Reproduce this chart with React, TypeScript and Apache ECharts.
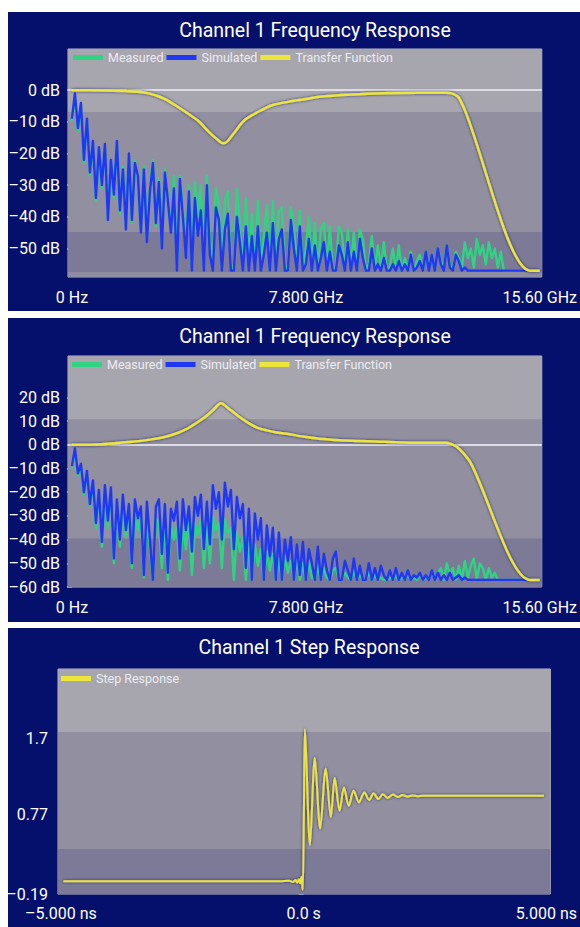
import { useEffect, useRef } from "react";
import * as echarts from "echarts";

// ---------- data ----------
// Spectra are sampled every 0.1 GHz starting at 0 GHz.
const FREQ_STEP_GHZ = 0.1;

// Channel 1, first equaliser setting (dB)
const measured1 = [
  -10, -2, -13, -5, -23, -10, -27, -17, -35, -19,
  -31, -18, -40, -23, -34, -17, -39, -24, -43, -21,
  -42, -22, -28, -44, -24, -47, -31, -22, -43, -28,
  -49, -25, -34, -44, -27, -55, -27, -38, -52, -30,
  -55, -29, -40, -30, -56, -27, -47, -55, -31, -36,
  -56, -35, -32, -55, -57, -31, -42, -56, -34, -54,
  -39, -56, -35, -55, -46, -36, -57, -35, -56, -38,
  -37, -55, -57, -37, -43, -56, -38, -57, -50, -40,
  -56, -42, -57, -44, -42, -56, -43, -57, -56, -43,
  -45, -57, -44, -56, -45, -57, -44, -47, -57, -55,
  -46, -57, -49, -56, -48, -57, -56, -50, -57, -49,
  -57, -53, -57, -51, -57, -54, -52, -57, -51, -56,
  -52, -57, -50, -54, -56, -49, -55, -57, -51, -53,
  -56, -48, -53, -50, -56, -47, -52, -49, -55, -48,
  -53, -50, -56, -51, -57, -57, -57, -57, -57, -57,
  -57, -57, -57, -57,
];
const simulated1 = [
  -9, -1, -12, -4, -22, -9, -26, -16, -34, -18,
  -30, -17, -41, -22, -33, -16, -38, -25, -44, -20,
  -41, -23, -27, -45, -25, -48, -32, -23, -42, -29,
  -50, -26, -35, -45, -31, -57, -28, -40, -53, -32,
  -57, -34, -46, -38, -57, -30, -52, -57, -37, -41,
  -57, -44, -39, -57, -57, -40, -48, -57, -43, -57,
  -46, -57, -43, -57, -52, -45, -57, -42, -57, -47,
  -44, -57, -57, -41, -50, -57, -43, -57, -55, -47,
  -57, -49, -57, -53, -48, -57, -51, -57, -57, -49,
  -52, -57, -48, -57, -51, -57, -47, -53, -57, -57,
  -50, -57, -55, -57, -53, -57, -57, -55, -57, -54,
  -57, -55, -57, -52, -57, -56, -54, -57, -51, -57,
  -52, -57, -50, -55, -57, -49, -56, -57, -52, -54,
  -57, -56, -57, -57, -57, -57, -57, -57, -57, -57,
  -57, -57, -57, -57, -57, -57, -57, -57, -57, -57,
  -57, -57, -57, -57,
];

// Channel 1, second equaliser setting (dB)
const measured2 = [
  -10, -3, -13, -9, -21, -12, -26, -17, -35, -21,
  -43, -19, -35, -20, -50, -25, -43, -24, -39, -28,
  -52, -27, -36, -30, -56, -29, -44, -57, -31, -33,
  -52, -34, -57, -33, -40, -35, -53, -34, -44, -31,
  -55, -33, -38, -32, -52, -34, -50, -30, -36, -33,
  -52, -31, -37, -35, -57, -37, -45, -39, -57, -41,
  -57, -42, -51, -44, -57, -45, -53, -46, -57, -48,
  -57, -47, -54, -49, -57, -48, -57, -50, -57, -49,
  -56, -57, -51, -57, -52, -56, -57, -53, -52, -57,
  -57, -54, -56, -57, -53, -57, -55, -57, -57, -54,
  -57, -55, -57, -56, -57, -57, -56, -57, -55, -57,
  -56, -57, -55, -57, -56, -57, -55, -57, -56, -57,
  -53, -57, -54, -52, -57, -50, -55, -52, -57, -51,
  -57, -49, -56, -51, -48, -57, -50, -52, -57, -52,
  -56, -54, -57, -57, -57, -57, -57, -57, -57, -57,
  -57, -57, -57, -57,
];
const simulated2 = [
  -9, -1.5, -12, -8, -20, -11, -25, -15, -33, -19,
  -41, -17, -32, -18, -48, -23, -40, -21, -36, -25,
  -50, -23, -31, -26, -55, -24, -40, -57, -26, -23,
  -46, -25, -54, -27, -32, -24, -48, -23, -36, -26,
  -45, -22, -30, -21, -44, -24, -42, -17, -27, -20,
  -40, -16, -26, -19, -44, -22, -31, -25, -52, -27,
  -57, -29, -40, -31, -57, -34, -47, -35, -57, -37,
  -57, -40, -49, -39, -57, -42, -55, -41, -57, -44,
  -50, -57, -43, -57, -46, -53, -57, -48, -45, -57,
  -57, -49, -53, -57, -48, -57, -51, -57, -57, -50,
  -57, -52, -57, -51, -55, -57, -53, -57, -52, -57,
  -54, -57, -53, -57, -55, -56, -54, -57, -55, -57,
  -53, -57, -54, -57, -55, -57, -54, -57, -56, -55,
  -57, -56, -57, -57, -57, -57, -57, -57, -57, -57,
  -57, -57, -57, -57, -57, -57, -57, -57, -57, -57,
  -57, -57, -57, -57,
];

// Transfer functions (GHz, dB)
const transfer1Ghz = [0, 1.0, 1.8, 2.2, 2.6, 2.9, 3.2, 3.5, 3.85, 4.2, 4.6, 4.85, 5.05, 5.2, 5.4, 5.75, 6.2, 6.7, 7.2, 7.8, 8.25, 9.35, 10.4, 11.5, 12.5, 12.75, 12.9, 13.1, 15.28, 15.6];
const transfer1Db = [0, -0.1, -0.3, -0.5, -1.1, -2.0, -3.3, -5.1, -7.3, -9.6, -13.5, -15.6, -16.8, -16.0, -13.6, -9.5, -6.9, -4.7, -3.7, -2.8, -2.1, -1.4, -1.0, -0.8, -0.8, -1.3, -2.4, -6.3, -57, -57];
const transfer2Ghz = [0, 1.0, 2.0, 2.6, 3.12, 3.5, 3.78, 4.1, 4.43, 4.7, 4.97, 5.2, 5.52, 5.85, 6.17, 6.5, 6.83, 7.16, 7.7, 8.24, 9.36, 10.44, 11.5, 12.5, 12.68, 12.84, 13.05, 13.3, 15.27, 15.6];
const transfer2Db = [0, 0.3, 1.3, 2.2, 3.4, 4.9, 6.4, 8.8, 11.6, 14.6, 17.6, 15.6, 12.4, 9.5, 7.3, 6.1, 5.2, 4.7, 3.5, 2.6, 1.7, 1.3, 0.9, 0.9, 0.2, -0.9, -3.5, -7.7, -57, -57];

// Step response (ns, normalised amplitude)
const stepTimeNs = [-4.95, -1.5, -0.5, -0.3, -0.22, -0.17, -0.13, -0.1, -0.07, -0.045, -0.02, 0.005, 0.027, 0.13, 0.23, 0.34, 0.455, 0.56, 0.64, 0.74, 0.83, 0.93, 1.03, 1.14, 1.25, 1.35, 1.44, 1.54, 1.63, 1.73, 1.84, 1.94, 2.04, 2.14, 2.24, 2.34, 2.45, 2.6, 3.5, 4.95];
const stepValue = [-0.035, -0.035, -0.035, -0.03, -0.045, -0.02, -0.055, -0.01, -0.06, 0.02, -0.14, 0.8, 1.81, 0.4, 1.46, 0.6, 1.33, 0.74, 1.22, 0.82, 1.1, 0.88, 1.06, 0.92, 1.04, 0.95, 1.03, 0.96, 1.02, 0.975, 1.015, 0.985, 1.01, 0.99, 1.005, 0.995, 1.0, 1.0, 1.0, 1.0];

// Axis ticks and labels
const freqTicksGhz = [0, 1.95, 3.9, 5.85, 7.8, 9.75, 11.7, 13.65, 15.6];
const freqLabelsGhz = [0, 7.8, 15.6];
const freqLabelText = ["0 Hz", "7.800 GHz", "15.60 GHz"];
const db1Ticks = [0, -10, -20, -30, -40, -50];
const db2Ticks = [20, 10, 0, -10, -20, -30, -40, -50, -60];
const timeTicksNs = [-5, -3.75, -2.5, -1.25, 0, 1.25, 2.5, 3.75, 5];
const timeLabelsNs = [-5, 0, 5];
const timeLabelText = ["\u20135.000 ns", "0.0 s", "5.000 ns"];
const stepTicks = [1.7, 0.77, -0.19];

// Shaded bands behind each plot (axis units, top to bottom)
const bandEdges1 = [13, -6.9, -44.8, -57.5, -59];
const bandEdges2 = [37.5, 10.65, -39.5, -60];
const bandEdges3 = [2.537, 1.773, 0.355, -0.19];

// ---------- styling ----------
const FONT = "Roboto, 'Noto Sans', sans-serif";
const NAVY = "#04106c";
const GREEN = "#2fd482";
const BLUE = "#2038f4";
const YELLOW = "#ece53c";
const TICK = "#a9acd0";
const bandColors1 = ["#a7a6ae", "#918fa0", "#7c7a97", "#8e8da1"];
const bandColors2 = ["#a7a6ae", "#918fa0", "#7c7a97"];
const bandColors3 = ["#a7a6ae", "#918fa0", "#7c7a97"];

const minus = (v: number) => (v < 0 ? "\u2013" + Math.abs(v) : String(v));
const dbLabel = (v: number) => minus(v) + " dB";
const pick = (vals: number[], texts: string[]) => (v: number) => {
  const i = vals.findIndex((x) => Math.abs(x - v) < 1e-6);
  return i >= 0 ? texts[i] : "";
};

function bandSeries(k: number, edges: number[], colors: string[], zeroLine: boolean) {
  const areas = [];
  for (let i = 0; i < edges.length - 1; i++) {
    areas.push([{ yAxis: edges[i], itemStyle: { color: colors[i], opacity: 1 } }, { yAxis: edges[i + 1] }]);
  }
  const s: any = {
    type: "line",
    xAxisIndex: k,
    yAxisIndex: k,
    data: [],
    z: 1,
    silent: true,
    markArea: { silent: true, label: { show: false }, emphasis: { disabled: true }, data: areas },
  };
  if (zeroLine) {
    s.markLine = {
      silent: true,
      symbol: "none",
      label: { show: false },
      emphasis: { disabled: true },
      lineStyle: { color: "#dcdce2", width: 2, type: "solid" },
      data: [{ yAxis: 0 }],
    };
  }
  return s;
}

function spikeSeries(k: number, name: string, color: string, values: number[], z: number) {
  return {
    type: "line",
    name,
    xAxisIndex: k,
    yAxisIndex: k,
    data: values.map((v, i) => [i * FREQ_STEP_GHZ, v]),
    showSymbol: false,
    symbol: "none",
    color,
    itemStyle: { color },
    lineStyle: { color, width: 2.4, join: "round" },
    z,
    silent: true,
    emphasis: { disabled: true },
  };
}

function yellowSeries(k: number, name: string, xs: number[], ys: number[], width: number, smooth: number) {
  return {
    type: "line",
    name,
    xAxisIndex: k,
    yAxisIndex: k,
    data: xs.map((x, i) => [x, ys[i]]),
    showSymbol: false,
    symbol: "none",
    smooth,
    color: YELLOW,
    itemStyle: { color: YELLOW },
    lineStyle: { color: YELLOW, width, shadowColor: "rgba(20,20,100,0.75)", shadowBlur: 3 },
    z: 5,
    silent: true,
    emphasis: { disabled: true },
  };
}

function xAxis(k: number, min: number, max: number, ticks: number[], labels: number[], texts: string[], margin: number) {
  return {
    gridIndex: k,
    type: "value",
    min,
    max,
    offset: 2,
    splitLine: { show: false },
    axisLine: { show: false },
    axisTick: { show: true, customValues: ticks, length: 8, lineStyle: { color: TICK, width: 2 } },
    axisLabel: {
      customValues: labels,
      formatter: pick(labels, texts),
      color: "#ffffff",
      fontSize: 16,
      fontFamily: FONT,
      margin,
    },
  };
}

function yAxis(k: number, min: number, max: number, ticks: number[], fmt: (v: number) => string, margin: number) {
  return {
    gridIndex: k,
    type: "value",
    min,
    max,
    splitLine: { show: false },
    axisLine: { show: false },
    axisTick: { show: true, customValues: ticks, length: 5, lineStyle: { color: TICK, width: 1.5 } },
    axisLabel: {
      customValues: ticks,
      formatter: fmt,
      color: "#ffffff",
      fontSize: 16,
      fontFamily: FONT,
      margin,
    },
  };
}

function legend(left: number, top: number, names: string[]) {
  return {
    left,
    top,
    data: names,
    icon: "rect",
    itemWidth: 30,
    itemHeight: 5,
    itemGap: 3,
    padding: 0,
    selectedMode: false,
    textStyle: { color: "#ececf2", fontSize: 12.5, fontFamily: FONT },
  };
}

function titleText(x: number, y: number, text: string) {
  return {
    type: "text",
    x,
    y,
    z: 100,
    silent: true,
    style: {
      text,
      fill: "#ffffff",
      font: `19.5px ${FONT}`,
      textAlign: "center",
      textVerticalAlign: "middle",
    },
  };
}

function panelRect(y: number, h: number) {
  return { type: "rect", z: -10, silent: true, shape: { x: 8, y, width: 572, height: h }, style: { fill: NAVY } };
}

const freqLegend = ["Measured", "Simulated", "Transfer Function"];

function buildOption() {
  const gridStyle = { show: true, backgroundColor: "#918fa0", borderColor: "#b8b7c3", borderWidth: 1 };
  return {
    animation: false,
    backgroundColor: "#ffffff",
    graphic: {
      elements: [
        panelRect(12, 299),
        panelRect(318, 304),
        panelRect(628, 299),
        titleText(315, 30, "Channel 1 Frequency Response"),
        titleText(315, 336, "Channel 1 Frequency Response"),
        titleText(309, 647, "Channel 1 Step Response"),
      ],
    },
    legend: [legend(73, 51, freqLegend), legend(72, 358, freqLegend), legend(61, 672, ["Step Response"])],
    grid: [
      { left: 68, top: 49, width: 481, height: 228, ...gridStyle },
      { left: 68, top: 356, width: 481, height: 231, ...gridStyle },
      { left: 58, top: 669, width: 497, height: 225, ...gridStyle },
    ],
    xAxis: [
      xAxis(0, -0.131, 15.666, freqTicksGhz, freqLabelsGhz, freqLabelText, 10),
      xAxis(1, -0.131, 15.666, freqTicksGhz, freqLabelsGhz, freqLabelText, 10),
      xAxis(2, -5.061, 5.082, timeTicksNs, timeLabelsNs, timeLabelText, 9),
    ],
    yAxis: [
      yAxis(0, -59, 13, db1Ticks, dbLabel, 8),
      yAxis(1, -60, 37.5, db2Ticks, dbLabel, 8),
      yAxis(2, -0.19, 2.537, stepTicks, minus, 10),
    ],
    series: [
      bandSeries(0, bandEdges1, bandColors1, true),
      spikeSeries(0, "Measured", GREEN, measured1, 2),
      spikeSeries(0, "Simulated", BLUE, simulated1, 3),
      yellowSeries(0, "Transfer Function", transfer1Ghz, transfer1Db, 2.5, 0.3),

      bandSeries(1, bandEdges2, bandColors2, true),
      spikeSeries(1, "Measured", GREEN, measured2, 2),
      spikeSeries(1, "Simulated", BLUE, simulated2, 3),
      yellowSeries(1, "Transfer Function", transfer2Ghz, transfer2Db, 2.5, 0.3),

      bandSeries(2, bandEdges3, bandColors3, false),
      yellowSeries(2, "Step Response", stepTimeNs, stepValue, 2, 0.3),
    ],
  };
}

export default function App() {
  const ref = useRef<HTMLDivElement>(null);
  useEffect(() => {
    if (!ref.current) return;
    const chart = echarts.init(ref.current, undefined, { renderer: "svg" });
    chart.setOption(buildOption() as any);
    return () => chart.dispose();
  }, []);
  return (
    <div
      ref={ref}
      style={{ position: "absolute", left: 0, top: 0, width: 580, height: 927, background: "#ffffff" }}
    />
  );
}
